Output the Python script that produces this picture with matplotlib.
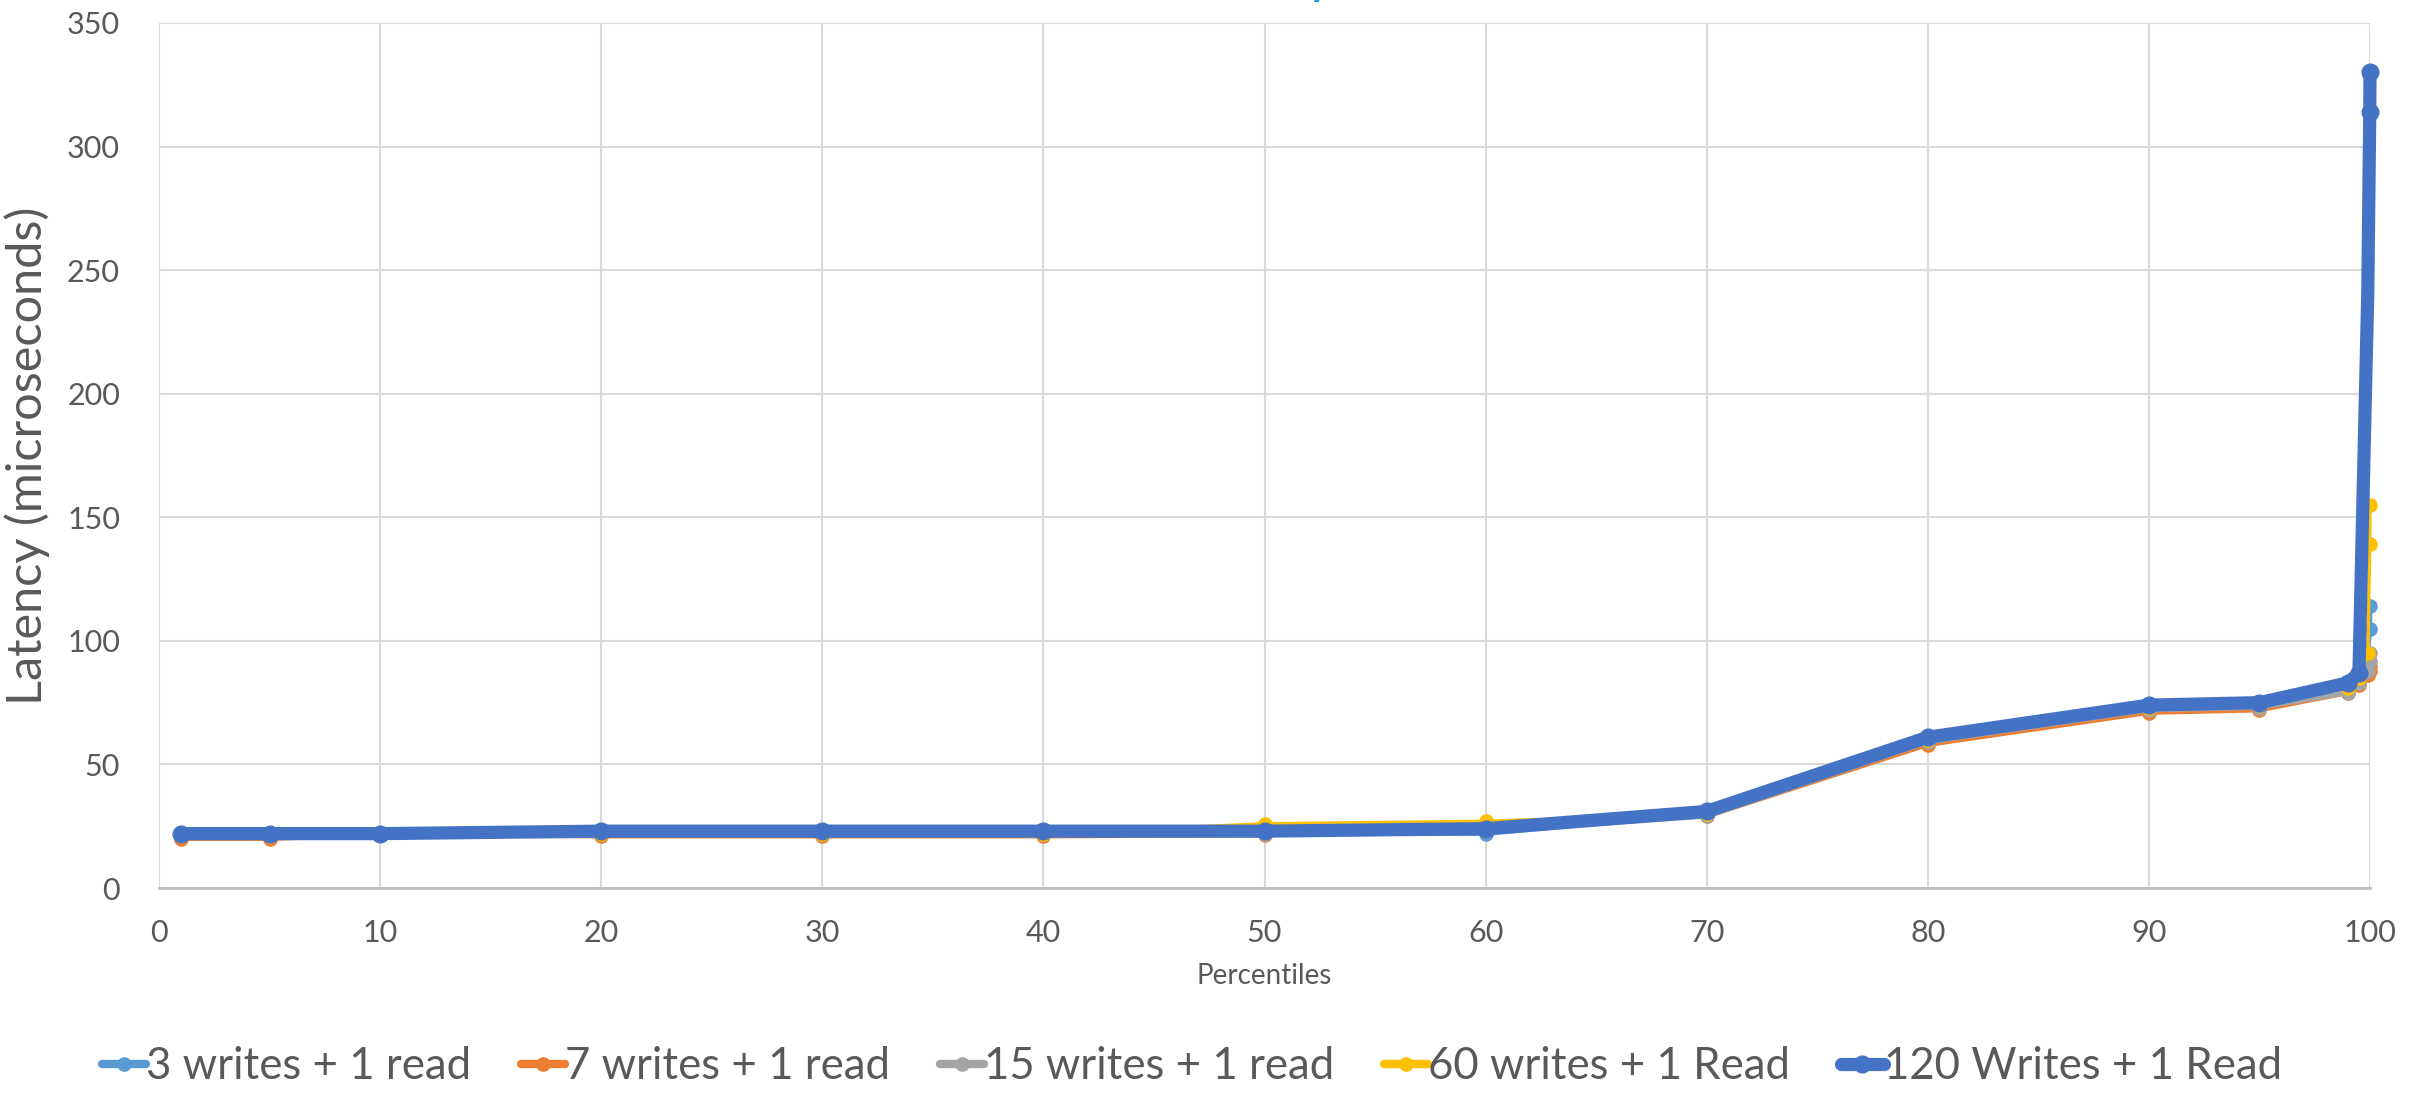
import matplotlib
matplotlib.use("Agg")
import matplotlib.pyplot as plt

percentiles = [1, 5, 10, 20, 30, 40, 50, 60, 70, 80, 90, 95, 99, 99.5, 99.9, 99.99, 100]

w3_r1 = [21, 21, 22, 22, 22, 22, 22, 22, 30, 60, 73, 74, 82, 86, 95, 105, 114]
w7_r1 = [20, 20, 21.5, 21, 21, 21, 21.5, 26, 29, 58, 71, 72, 79, 82, 86, 88, 90]
w15_r1 = [21, 21, 22, 22, 22, 22, 22, 23, 29, 59, 72, 73, 79, 83, 88, 92, 95]
w60_r1 = [21, 21, 22, 22, 22, 22, 26, 27, 30, 60, 73, 74, 81, 85, 95, 139, 155]
w120_r1 = [22, 22, 22, 23, 23, 23, 23, 24, 31, 61, 74, 75, 83, 87, 241, 314, 330]

series_labels = ["3 writes + 1 read", "7 writes + 1 read", "15 writes + 1 read",
                 "60 writes + 1 Read", "120 Writes + 1 Read"]
y_ticks = [0, 50, 100, 150, 200, 250, 300, 350]
x_ticks = [0, 10, 20, 30, 40, 50, 60, 70, 80, 90, 100]

plt.rcParams['font.family'] = ['Lato', 'DejaVu Sans']
txt = '#595959'

fig = plt.figure(figsize=(24.33, 10.93), dpi=100)
ax = fig.add_axes([159/2433, 1-888/1093, (2370-159)/2433, (888-23)/1093])

styles = [
    (w3_r1, '#5B9BD5', 3.4, 9.5),
    (w7_r1, '#ED7D31', 3.4, 9.5),
    (w15_r1, '#A5A5A5', 3.4, 9.5),
    (w60_r1, '#FFC000', 2.4, 9.5),
    (w120_r1, '#4472C4', 9.5, 12),
]
for i, ((vals, col, lw, ms), lab) in enumerate(zip(styles, series_labels)):
    me = None
    if i == 4:
        me = [k for k in range(len(vals)) if k != 14]
    ax.plot(percentiles, vals, color=col, lw=lw, marker='o', ms=ms,
            solid_joinstyle='round', solid_capstyle='round', label=lab,
            clip_on=False, markevery=me)

ax.set_xlim(0, 100)
ax.set_ylim(0, 350)
ax.set_xticks(x_ticks)
ax.set_yticks(y_ticks)
ax.grid(True, color='#D9D9D9', lw=1.5)
ax.set_axisbelow(True)
for s in ['top', 'right', 'left']:
    ax.spines[s].set_visible(False)
ax.spines['bottom'].set_color('#BFBFBF')
ax.spines['bottom'].set_linewidth(2)
ax.tick_params(length=0, labelsize=22, colors=txt, pad=22)
ax.tick_params(axis='y', pad=28)

ax.set_ylabel("Latency (microseconds)", fontsize=35, color=txt, labelpad=12)
ax.set_xlabel("Percentiles", fontsize=20, color=txt, labelpad=12)

fig.text(1332/2433, 1 + 5/1093, "Latency", ha='right', va='baseline',
         fontsize=30, color='#1F9BDE', fontweight='bold')

leg = fig.legend(loc='center', bbox_to_anchor=(0.49, 0.024), ncol=5,
                 frameon=False, fontsize=31.5, handlelength=1.0,
                 handletextpad=0.0, columnspacing=1.15)
for t in leg.get_texts():
    t.set_color(txt)
for h in leg.legend_handles:
    h.set_linewidth(max(h.get_linewidth(), 6))

fig.savefig("out.png", dpi=100)
